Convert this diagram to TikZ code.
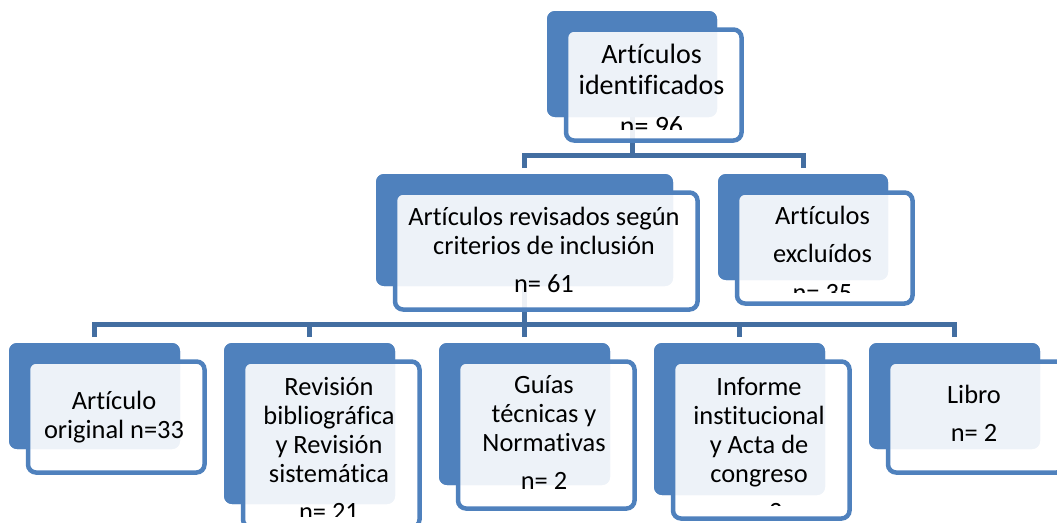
\documentclass[tikz,border=0pt]{standalone}
\usepackage{fontspec}
\setmainfont[Ligatures=NoCommon]{Carlito}
\definecolor{accent}{HTML}{4F81BD}
\definecolor{connblue}{HTML}{436EA1}
\newcommand\linestack[1]{\vtop{\halign{\hfil##\hfil\cr#1\crcr}}}
\newcommand\pgap{\noalign{\vskip9.5pt}}
\tikzset{
  backbox/.style={draw=none, fill=accent, rounded corners=8pt, inner sep=0pt, outer sep=0pt, anchor=north west},
  frontbox/.style={draw=accent, line width=4.5pt, fill=white, fill opacity=0.9, rounded corners=8pt, inner sep=0pt, anchor=north west},
  conn/.style={draw=connblue, line width=5pt},
  boxtext/.style={anchor=base, inner sep=0pt, text=black, font=\fontsize{26.4}{29}\selectfont},
  toptext/.style={anchor=base, inner sep=0pt, text=black, font=\fontsize{28}{31}\selectfont},
}
\begin{document}
\begin{tikzpicture}[x=1pt, y=-1pt]
\useasboundingbox (0,0) rectangle (1057,522);
\clip (0,0) rectangle (1057,522);

% back rectangles (named, used by connectors)
\node[backbox, minimum width=170pt, minimum height=106pt] (A) at (547,11) {};
\node[backbox, minimum width=297pt, minimum height=112pt] (B) at (376,174) {};
\node[backbox, minimum width=170pt, minimum height=106pt] (C) at (718,174) {};
\node[backbox, minimum width=171pt, minimum height=106pt] (D1) at (9,343) {};
\node[backbox, minimum width=171pt, minimum height=161pt] (D2) at (224,343) {};
\node[backbox, minimum width=171pt, minimum height=142pt] (D3) at (439,343) {};
\node[backbox, minimum width=171pt, minimum height=152pt] (D4) at (654,343) {};
\node[backbox, minimum width=171pt, minimum height=106pt] (D5) at (869,343) {};

% connectors (drawn under the front boxes)
\coordinate (jA) at (632,155.5);
\coordinate (jB) at (524.5,324);
\draw[conn] (A.south) -- (jA);
\draw[conn, shorten <=6pt, shorten >=6pt] (B.north) |- (jA) -| (C.north);
\draw[conn] (B.south) -- (jB);
\draw[conn, shorten <=6pt, shorten >=6pt] (D1.north) |- (jB) -| (D5.north);
\draw[conn, shorten >=6pt] (jB) -| (D2.north);
\draw[conn, shorten >=6pt] (jB) -- (D3.north);
\draw[conn, shorten >=6pt] (jB) -| (D4.north);

% redraw back rectangles above connectors
\foreach \n in {A,B,C,D1,D2,D3,D4,D5}{
  \fill[accent, rounded corners=8pt] (\n.north west) rectangle (\n.south east);
}

% front boxes
\node[frontbox, minimum width=175.5pt, minimum height=111pt] (Af) at (563.75,27.25) {};
\node[frontbox, minimum width=302.5pt, minimum height=117pt] (Bf) at (392.75,190.25) {};
\node[frontbox, minimum width=175.5pt, minimum height=111pt] (Cf) at (734.75,190.25) {};
\node[frontbox, minimum width=176.5pt, minimum height=111pt] (D1f) at (25.75,359.25) {};
\node[frontbox, minimum width=176.5pt, minimum height=166pt] (D2f) at (240.75,359.25) {};
\node[frontbox, minimum width=176.5pt, minimum height=147pt] (D3f) at (455.75,359.25) {};
\node[frontbox, minimum width=176.5pt, minimum height=157pt] (D4f) at (670.75,359.25) {};
\node[frontbox, minimum width=176.5pt, minimum height=111pt] (D5f) at (885.75,359.25) {};

% texts, clipped to the inner area of each front box
\begin{scope}
\clip (Af.north west) rectangle ([yshift=13.5pt]Af.south east);
\node[toptext] (At) at (651.5,63.5) {\linestack{Artículos\cr identificados\cr\noalign{\vskip10pt}n= 96}};
\end{scope}
\begin{scope}
\clip (Bf.north west) rectangle ([yshift=13.5pt]Bf.south east);
\node[boxtext] (Bt) at (544,225) {\linestack{Artículos revisados según\cr criterios de inclusión\cr\pgap n= 61}};
\end{scope}
\begin{scope}
\clip (Cf.north west) rectangle ([yshift=13.5pt]Cf.south east);
\node[boxtext] (Ct) at (822.5,224) {\linestack{Artículos\cr\pgap excluídos\cr\pgap n= 35}};
\end{scope}
\begin{scope}
\clip (D1f.north west) rectangle ([yshift=13.5pt]D1f.south east);
\node[boxtext] (D1t) at (114,409) {\linestack{Artículo\cr original n=33}};
\end{scope}
\begin{scope}
\clip (D2f.north west) rectangle ([yshift=13.5pt]D2f.south east);
\node[boxtext] (D2t) at (329,395) {\linestack{Revisión\cr bibliográfica\cr y Revisión\cr sistemática\cr\pgap n= 21}};
\end{scope}
\begin{scope}
\clip (D3f.north west) rectangle ([yshift=13.5pt]D3f.south east);
\node[boxtext] (D3t) at (544,393) {\linestack{Guías\cr técnicas y\cr Normativas\cr\pgap n= 2}};
\end{scope}
\begin{scope}
\clip (D4f.north west) rectangle ([yshift=15pt]D4f.south east);
\node[boxtext] (D4t) at (759,395) {\linestack{Informe\cr institucional\cr y Acta de\cr congreso\cr\pgap n= 3}};
\end{scope}
\begin{scope}
\clip (D5f.north west) rectangle ([yshift=13.5pt]D5f.south east);
\node[boxtext] (D5t) at (974,403) {\linestack{Libro\cr\pgap n= 2}};
\end{scope}
\end{tikzpicture}
\end{document}
